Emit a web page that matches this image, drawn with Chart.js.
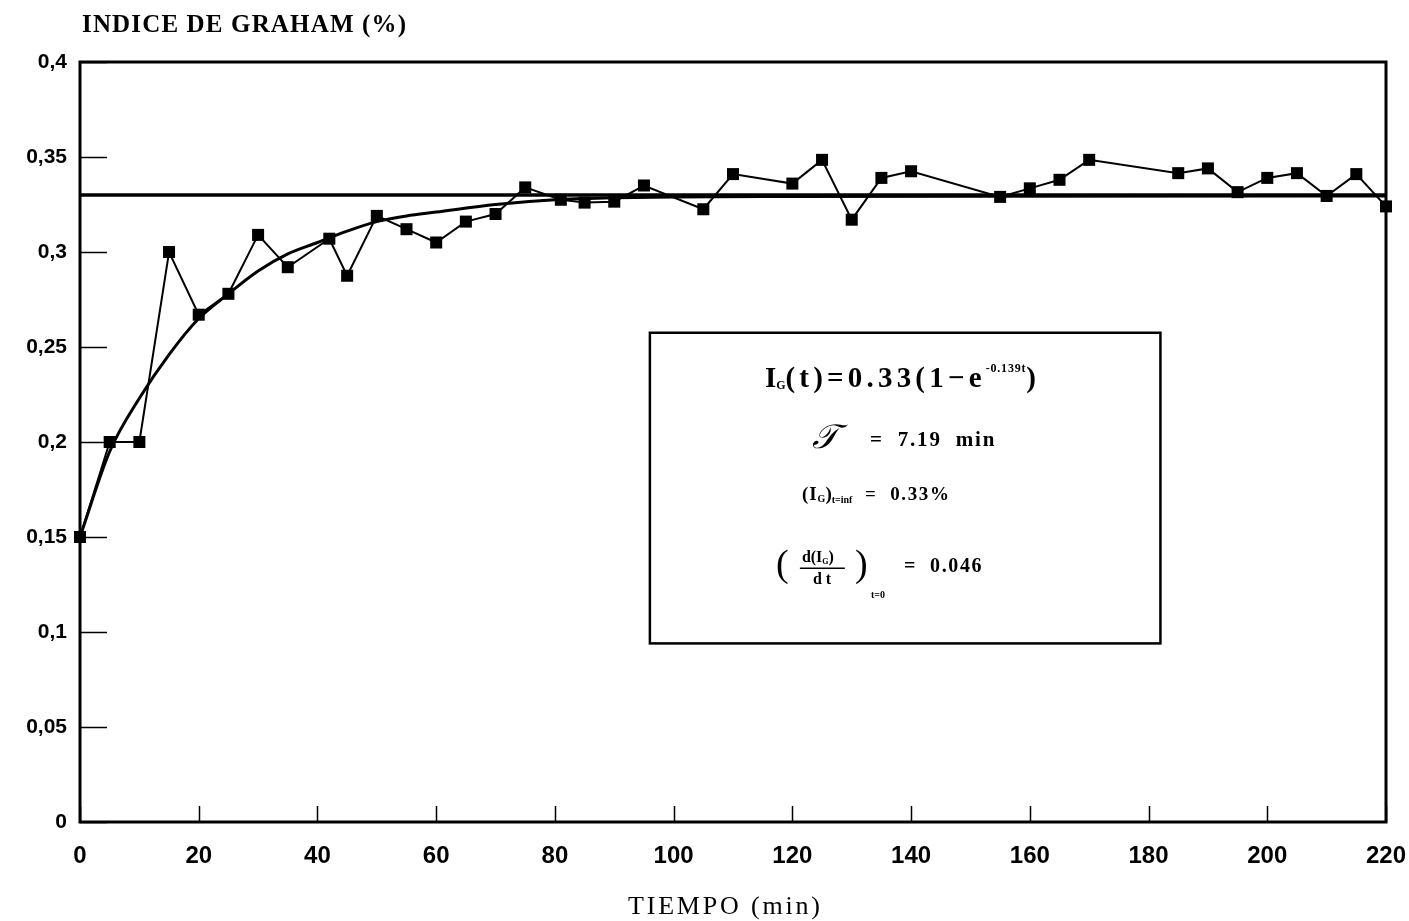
<!DOCTYPE html>
<html lang="es">
<head>
<meta charset="utf-8">
<title>Índice de Graham frente al tiempo</title>
<script src="https://cdn.jsdelivr.net/npm/chart.js@4.4.1/dist/chart.umd.min.js"></script>
<style>
  html, body { margin: 0; padding: 0; background: #fff; }
  #wrap { width: 1409px; height: 921px; }
</style>
</head>
<body>
<div id="wrap"><canvas id="grahamChart" width="1409" height="921"></canvas></div>
<script>
// Medidas: tiempo (min) e índice de Graham (%)
const tiempos = [0, 5, 10, 15, 20, 25, 30, 35, 42, 45, 50, 55, 60, 65, 70, 75, 81, 85, 90, 95,
                 105, 110, 120, 125, 130, 135, 140, 155, 160, 165, 170, 185, 190, 195, 200, 205, 210, 215, 220];
const indiceGraham = [0.15, 0.2, 0.2, 0.3, 0.267, 0.278, 0.309, 0.292, 0.307, 0.2875,
                      0.319, 0.312, 0.305, 0.316, 0.32, 0.334, 0.3275, 0.326, 0.3265, 0.335,
                      0.3225, 0.341, 0.336, 0.3485, 0.317, 0.339, 0.3425, 0.329, 0.3335, 0.338,
                      0.3485, 0.3415, 0.344, 0.3315, 0.339, 0.3415, 0.3295, 0.341, 0.324];

// Curva de ajuste exponencial (leída punto a punto)
const tiemposAjuste = [0, 5, 10, 15, 20, 25, 30, 35, 40, 45, 50, 55, 60, 70, 80, 90, 100, 120, 150, 220];
const indiceAjuste = [0.15, 0.195, 0.223, 0.246, 0.265, 0.278, 0.29, 0.299, 0.305, 0.311,
                      0.316, 0.319, 0.321, 0.325, 0.3275, 0.3285, 0.329, 0.3292, 0.3294, 0.3295];

// Valor asintótico y rango de tiempo
const asintota = 0.33;
const rangoTiempo = [0, 220];

// Etiquetas de los ejes
const xTickLabels = ['0', '20', '40', '60', '80', '100', '120', '140', '160', '180', '200', '220'];
const yTickLabels = ['0', '0,05', '0,1', '0,15', '0,2', '0,25', '0,3', '0,35', '0,4'];

// Recuadro con los parámetros del ajuste (en unidades de los ejes)
const recuadroT = [96, 182];
const recuadroY = [0.2575, 0.094];

const aPuntos = (xs, ys) => xs.map((x, i) => ({ x: x, y: ys[i] }));

const SERIF = '"Liberation Serif", "Times New Roman", serif';
const SANS = '"Liberation Sans", Arial, sans-serif';

// Dibuja una secuencia de tramos de texto con fuentes distintas, desde x
function dibujarTramos(ctx, tramos, x, y) {
    let cx = x;
    tramos.forEach(function(tr) {
        ctx.font = tr.f;
        ctx.letterSpacing = (tr.ls || 0) + 'px';
        ctx.fillText(tr.t, cx, y + (tr.dy || 0));
        cx += ctx.measureText(tr.t).width;
    });
    ctx.letterSpacing = '0px';
}

// Texto espaciado hasta ocupar un ancho dado
function textoEspaciado(ctx, texto, fuente, x, y, ancho) {
    ctx.font = fuente;
    ctx.letterSpacing = '0px';
    const w = ctx.measureText(texto).width;
    const ls = (ancho - w) / (texto.length - 1);
    ctx.letterSpacing = ls + 'px';
    ctx.fillText(texto, x, y);
    ctx.letterSpacing = '0px';
}

const decoracion = {
    id: 'decoracion',
    afterDraw(chart) {
        const ctx = chart.ctx;
        const area = chart.chartArea;
        const sx = chart.scales.x;
        const sy = chart.scales.y;
        ctx.save();
        ctx.strokeStyle = '#000';
        ctx.fillStyle = '#000';
        ctx.textBaseline = 'alphabetic';
        ctx.textAlign = 'left';

        // Marcas interiores de los ejes
        ctx.lineWidth = 1.5;
        ctx.beginPath();
        sy.ticks.forEach(function(tk) {
            const py = Math.round(sy.getPixelForValue(tk.value)) + 0.5;
            ctx.moveTo(area.left, py);
            ctx.lineTo(area.left + 27, py);
        });
        sx.ticks.forEach(function(tk) {
            const px = Math.round(sx.getPixelForValue(tk.value)) + 0.5;
            ctx.moveTo(px, area.bottom);
            ctx.lineTo(px, area.bottom - 16);
        });
        ctx.stroke();

        // Marco del gráfico
        ctx.lineWidth = 3;
        ctx.strokeRect(area.left, area.top, area.right - area.left, area.bottom - area.top);

        // Títulos de los ejes
        textoEspaciado(ctx, 'INDICE DE GRAHAM (%)', 'bold 25px ' + SERIF, area.left + 2, area.top - 30, 324);
        textoEspaciado(ctx, 'TIEMPO (min)', '26px ' + SERIF, (area.left + area.right) / 2 - 105, area.bottom + 92, 192);

        // Recuadro con la ecuación de ajuste
        const bl = sx.getPixelForValue(recuadroT[0]);
        const br = sx.getPixelForValue(recuadroT[1]);
        const bt = sy.getPixelForValue(recuadroY[0]);
        const bb = sy.getPixelForValue(recuadroY[1]);
        ctx.lineWidth = 2.5;
        ctx.strokeRect(bl, bt, br - bl, bb - bt);

        const grande = 'bold 29px ' + SERIF;
        dibujarTramos(ctx, [
            { t: 'I', f: grande },
            { t: 'G', f: 'bold 12px ' + SERIF, dy: 2 },
            { t: '(t)=0.33(1\u2212e', f: grande, ls: 4.2 },
            { t: '-0.139t', f: 'bold 12px ' + SERIF, dy: -15, ls: 0.8 },
            { t: ')', f: grande }
        ], bl + 115, bt + 54);

        ctx.font = 'italic 34px "DejaVu Serif", serif';
        ctx.fillText('\uD835\uDCAF', bl + 162, bt + 115);
        dibujarTramos(ctx, [
            { t: '=  7.19  min', f: 'bold 21px ' + SERIF, ls: 1.8 }
        ], bl + 220, bt + 113);

        dibujarTramos(ctx, [
            { t: '(I', f: 'bold 19px ' + SERIF, ls: 1 },
            { t: 'G', f: 'bold 10px ' + SERIF, dy: 2 },
            { t: ')', f: 'bold 19px ' + SERIF },
            { t: 't=inf', f: 'bold 10px ' + SERIF, dy: 3 },
            { t: '  =  0.33%', f: 'bold 19px ' + SERIF, ls: 1.6 }
        ], bl + 152, bt + 167);

        // Derivada en el origen
        ctx.font = '38px ' + SERIF;
        ctx.fillText('(', bl + 126, bt + 243);
        ctx.fillText(')', bl + 205, bt + 243);
        dibujarTramos(ctx, [
            { t: 'd(I', f: 'bold 16px ' + SERIF },
            { t: 'G', f: 'bold 8px ' + SERIF, dy: 2 },
            { t: ')', f: 'bold 16px ' + SERIF }
        ], bl + 152, bt + 229);
        ctx.lineWidth = 1.5;
        ctx.beginPath();
        ctx.moveTo(bl + 150, bt + 235.5);
        ctx.lineTo(bl + 195, bt + 235.5);
        ctx.stroke();
        dibujarTramos(ctx, [{ t: 'd t', f: 'bold 16px ' + SERIF }], bl + 163, bt + 251);
        dibujarTramos(ctx, [{ t: 't=0', f: 'bold 10px ' + SERIF }], bl + 221, bt + 265);
        dibujarTramos(ctx, [{ t: '=  0.046', f: 'bold 20px ' + SERIF, ls: 1.6 }], bl + 254, bt + 239);

        ctx.restore();
    }
};

new Chart(document.getElementById('grahamChart'), {
    type: 'line',
    data: {
        datasets: [
            {
                label: 'Índice de Graham',
                data: aPuntos(tiempos, indiceGraham),
                borderColor: '#000',
                backgroundColor: '#000',
                borderWidth: 2,
                pointStyle: 'rect',
                pointRadius: 8.5,
                pointBorderWidth: 0,
                tension: 0,
                clip: false
            },
            {
                label: 'Ajuste',
                data: aPuntos(tiemposAjuste, indiceAjuste),
                borderColor: '#000',
                borderWidth: 3,
                pointRadius: 0,
                cubicInterpolationMode: 'monotone'
            },
            {
                label: 'Asíntota',
                data: rangoTiempo.map(t => ({ x: t, y: asintota })),
                borderColor: '#000',
                borderWidth: 3.5,
                pointRadius: 0
            }
        ]
    },
    options: {
        responsive: false,
        animation: false,
        devicePixelRatio: 1,
        layout: { padding: { left: 0, top: 62, right: 23, bottom: 0 } },
        plugins: {
            legend: { display: false },
            tooltip: { enabled: false }
        },
        scales: {
            x: {
                type: 'linear',
                min: rangoTiempo[0],
                max: rangoTiempo[1],
                grid: { display: false },
                border: { display: false },
                ticks: {
                    stepSize: 20,
                    color: '#000',
                    padding: 12,
                    maxRotation: 0,
                    font: { family: SANS, size: 24, weight: 'bold' },
                    callback: (v, i) => xTickLabels[i]
                },
                afterFit: s => { s.height = 99; s.paddingLeft = 0; s.paddingRight = 0; }
            },
            y: {
                min: 0,
                max: 0.4,
                grid: { display: false },
                border: { display: false },
                ticks: {
                    stepSize: 0.05,
                    color: '#000',
                    padding: 5,
                    font: { family: SANS, size: 21, weight: 'bold' },
                    callback: (v, i) => yTickLabels[i]
                },
                afterFit: s => { s.width = 80; s.paddingTop = 0; s.paddingBottom = 0; }
            }
        }
    },
    plugins: [decoracion]
});
</script>
</body>
</html>
